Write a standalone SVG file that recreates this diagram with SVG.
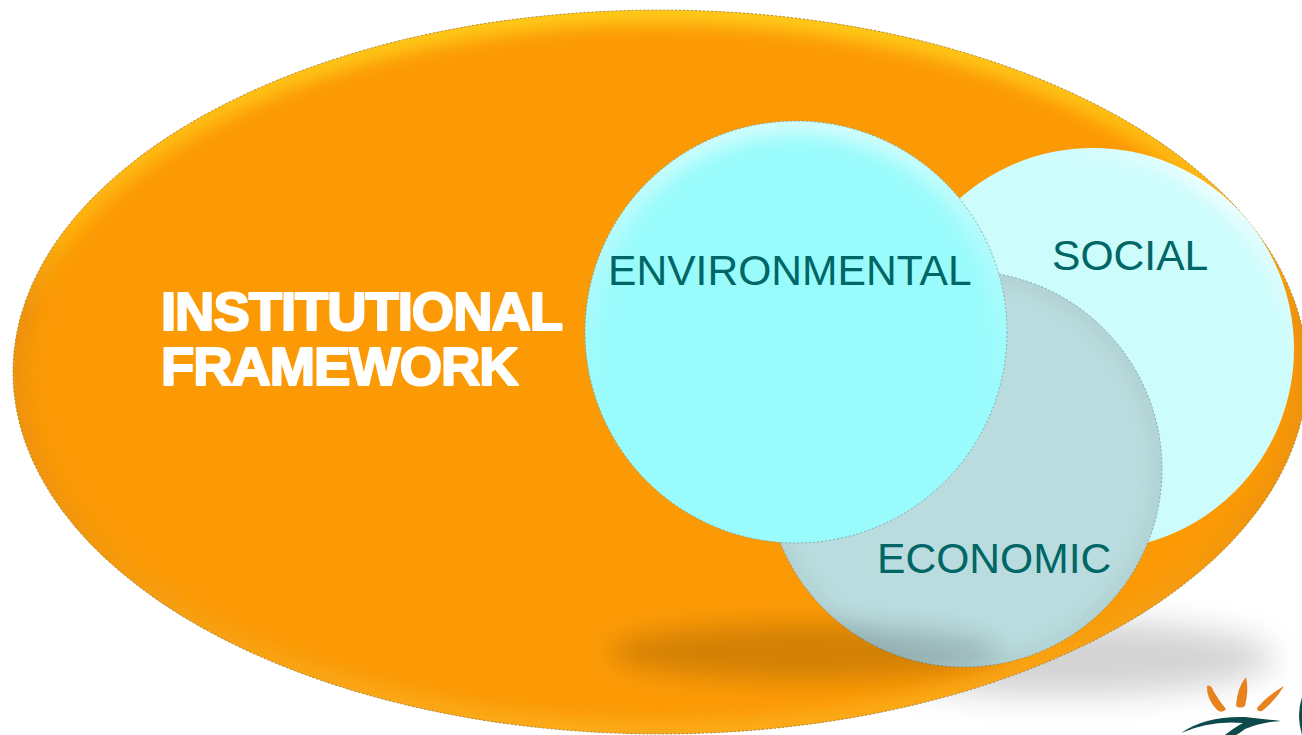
<svg xmlns="http://www.w3.org/2000/svg" width="1302" height="735" viewBox="0 0 1302 735">
<style>
.lbl{font-family:"Liberation Sans",Arial,sans-serif;font-size:42.6px;fill:#006666}
.title{font-family:"Liberation Sans",Arial,sans-serif;font-size:54.4px;font-weight:bold;fill:#fff;stroke:#fff;stroke-width:2.2;stroke-linejoin:round;letter-spacing:-1px}
.edge{fill:none;stroke-dasharray:2 2;stroke-width:.8}
</style>
<defs>
<filter id="bL" x="-30%" y="-100%" width="160%" height="300%"><feGaussianBlur stdDeviation="12"/></filter>
<filter id="bG" x="-30%" y="-100%" width="160%" height="300%"><feGaussianBlur stdDeviation="16"/></filter>
<filter id="bR" x="-10%" y="-10%" width="120%" height="120%"><feGaussianBlur stdDeviation="9"/></filter>
<linearGradient id="gO" gradientUnits="userSpaceOnUse" x1="0" y1="10" x2="0" y2="734">
<stop offset="0" stop-color="#ffd820"/><stop offset=".3" stop-color="#ffb810"/><stop offset=".42" stop-color="#e8900e"/><stop offset=".7" stop-color="#ee940c"/><stop offset="1" stop-color="#fcb020"/>
</linearGradient>
<linearGradient id="gE" gradientUnits="userSpaceOnUse" x1="0" y1="120" x2="0" y2="543">
<stop offset="0" stop-color="#d8fdfd"/><stop offset=".45" stop-color="#bdfbfb" stop-opacity=".4"/><stop offset=".75" stop-color="#99fbfc" stop-opacity="0"/>
</linearGradient>
<linearGradient id="gS" gradientUnits="userSpaceOnUse" x1="1050" y1="150" x2="1290" y2="400">
<stop offset="0" stop-color="#fff" stop-opacity=".1"/><stop offset=".4" stop-color="#fff"/><stop offset="1" stop-color="#fff" stop-opacity="0"/>
</linearGradient>
<clipPath id="cOrange"><ellipse cx="660" cy="372" rx="647" ry="362"/></clipPath>
<clipPath id="cEnv"><circle cx="796" cy="332" r="211"/></clipPath>
<clipPath id="cSoc"><circle cx="1093" cy="349" r="201"/></clipPath>
<clipPath id="cEco"><circle cx="964" cy="469" r="198"/></clipPath>
</defs>
<rect width="1302" height="735" fill="#fff"/>
<ellipse id="ground-shadow" cx="1060" cy="658" rx="215" ry="38" fill="#000" opacity=".17" filter="url(#bG)"/>
<g id="institutional">
<ellipse cx="660" cy="372" rx="647" ry="362" fill="#fc9a06"/>
<g clip-path="url(#cOrange)">
<ellipse cx="660" cy="372" rx="647" ry="362" fill="none" stroke="url(#gO)" stroke-width="26" opacity=".85" filter="url(#bR)"/>
</g>
<ellipse class="edge" cx="660" cy="372" rx="647" ry="362" stroke="#8a7a4a"/>
<text class="title" x="161" y="330"><tspan x="161" y="330">INSTITUTIONAL</tspan><tspan x="161" y="385">FRAMEWORK</tspan></text>
</g>
<g id="social">
<circle cx="1093" cy="349" r="201" fill="#ccfcfc"/>
<g clip-path="url(#cSoc)"><circle cx="1093" cy="349" r="201" fill="none" stroke="url(#gS)" stroke-width="22" opacity=".8" filter="url(#bR)"/></g>
<text class="lbl" x="1052" y="270">SOCIAL</text>
</g>
<g id="economic">
<circle cx="964" cy="469" r="198" fill="#badcde"/>
<g clip-path="url(#cEco)">
<circle cx="964" cy="469" r="198" fill="none" stroke="#8fabad" stroke-width="12" opacity=".3" filter="url(#bR)"/>
</g>
<circle class="edge" cx="964" cy="469" r="198" stroke="#7f9294"/>
</g>
<ellipse id="floor-shadow" cx="805" cy="652" rx="195" ry="28" fill="#000" opacity=".16" filter="url(#bL)"/>
<text class="lbl" x="877" y="573">ECONOMIC</text>
<g id="environmental">
<circle cx="796" cy="332" r="211" fill="#99fbfc"/>
<g clip-path="url(#cEnv)"><circle cx="796" cy="332" r="211" fill="none" stroke="url(#gE)" stroke-width="26" filter="url(#bR)"/></g>
<circle class="edge" cx="796" cy="332" r="211" stroke="#7f9a9a"/>
<text class="lbl" x="608" y="285">ENVIRONMENTAL</text>
</g>
<g id="logo">
<path d="M1207 686Q1211 684 1214 692Q1220 702 1226 709Q1222 714 1217 710Q1206 698 1207 686Z" fill="#e8821e"/>
<path d="M1246 677Q1249 690 1245 706Q1240 709 1236 706Q1237 688 1246 677Z" fill="#e8821e"/>
<path d="M1284 686Q1276 700 1262 711Q1257 712 1257 708Q1268 695 1284 686Z" fill="#e8821e"/>
<path d="M1181 733Q1205 716 1245 717Q1262 719 1281 721Q1262 722 1245 729Q1240 733 1236 735L1225 735Q1235 727 1243 723Q1210 720 1181 733Z" fill="#0c4a4c"/>
<path d="M1302 697Q1296 715 1302 735Z" fill="#0c4a4c"/>
</g>
</svg>
